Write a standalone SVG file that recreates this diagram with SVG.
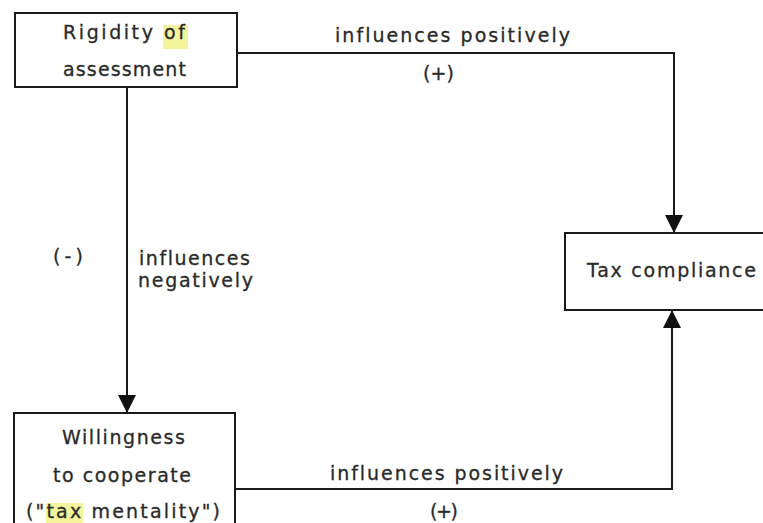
<svg xmlns="http://www.w3.org/2000/svg" width="763" height="523" viewBox="0 0 763 523">
  <style>
    .box { fill: #ffffff; stroke: #1a1a1a; stroke-width: 2; }
    .wire { fill: none; stroke: #1a1a1a; stroke-width: 2; }
    .lbl { font-family: "DejaVu Sans", Verdana, sans-serif; font-size: 19px; fill: #2a2a2a; stroke: #2a2a2a; stroke-width: 0.3; letter-spacing: 2px; }
    .hl { fill: #f4f49c; stroke: none; }
  </style>
  <defs>
    <marker id="arrow" viewBox="0 0 18 18" refX="18" refY="9" markerWidth="18" markerHeight="18" markerUnits="userSpaceOnUse" orient="auto">
      <path d="M0,0 L18,9 L0,18 Z" fill="#111111"/>
    </marker>
  </defs>
  <rect width="763" height="523" fill="#ffffff"/>

  <g id="connectors">
    <path class="wire" d="M237,53 H674 V233" marker-end="url(#arrow)"/>
    <path class="wire" d="M127,87 V413" marker-end="url(#arrow)"/>
    <path class="wire" d="M235,489 H672 V310" marker-end="url(#arrow)"/>
    <text class="lbl" x="335" y="42" textLength="237" lengthAdjust="spacing">influences positively</text>
    <text class="lbl" x="423" y="80" textLength="33" lengthAdjust="spacing">(+)</text>
    <text class="lbl" x="53" y="263" textLength="32" lengthAdjust="spacing">(-)</text>
    <text class="lbl" x="139" y="265" textLength="113" lengthAdjust="spacing">influences</text>
    <text class="lbl" x="138" y="287" textLength="117" lengthAdjust="spacing">negatively</text>
    <text class="lbl" x="330" y="480" textLength="235" lengthAdjust="spacing">influences positively</text>
    <text class="lbl" x="430" y="518" textLength="30" lengthAdjust="spacing">(+)</text>
  </g>

  <g id="rigidity">
    <rect class="box" x="15" y="13" width="222" height="74"/>
    <rect class="hl" x="163" y="25" width="25" height="24"/>
    <text class="lbl" x="63" y="39" textLength="124" lengthAdjust="spacing">Rigidity of</text>
    <text class="lbl" x="63" y="76" textLength="125" lengthAdjust="spacing">assessment</text>
  </g>

  <g id="compliance">
    <rect class="box" x="565" y="233" width="220" height="77"/>
    <text class="lbl" x="587" y="277" textLength="171" lengthAdjust="spacing">Tax compliance</text>
  </g>

  <g id="willingness">
    <rect class="box" x="14" y="413" width="221" height="130"/>
    <rect class="hl" x="46" y="503" width="37" height="22"/>
    <text class="lbl" x="26" y="518" textLength="196" lengthAdjust="spacing">("tax mentality")</text>
    <text class="lbl" x="62" y="444" textLength="125" lengthAdjust="spacing">Willingness</text>
    <text class="lbl" x="53" y="482" textLength="140" lengthAdjust="spacing">to cooperate</text>
  </g>
</svg>
